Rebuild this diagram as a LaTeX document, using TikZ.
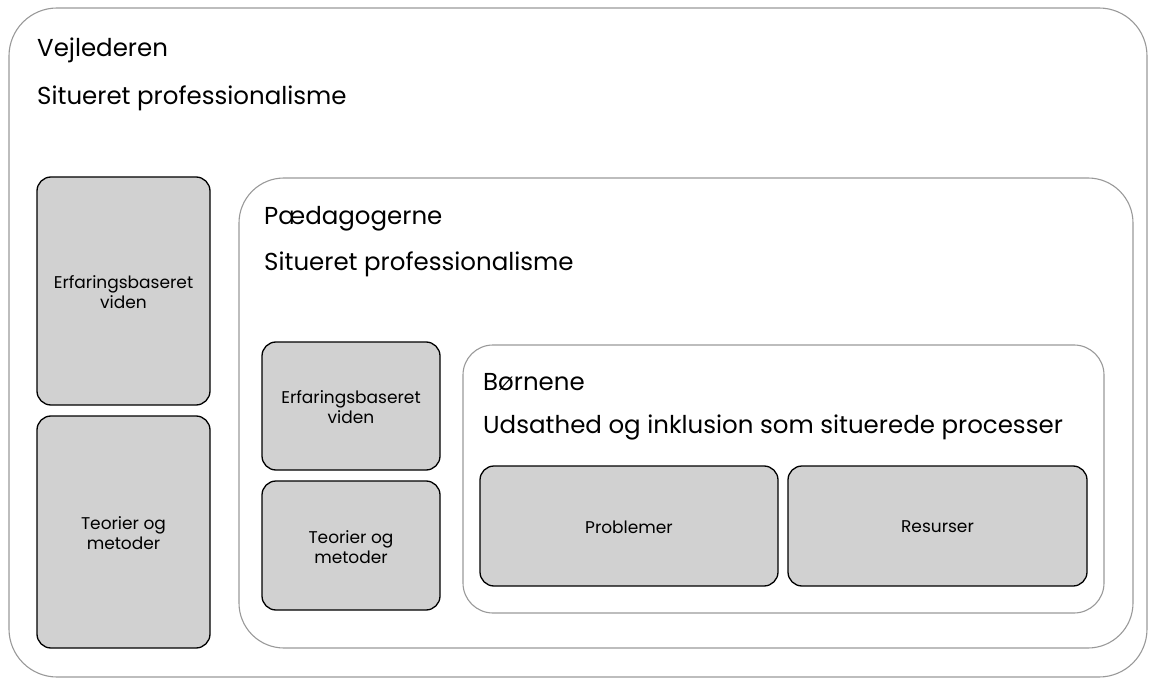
\documentclass[tikz,border=0pt]{standalone}
\usepackage{fontspec}
\setmainfont{Poppins}
\begin{document}
\begin{tikzpicture}[x=1pt,y=-1pt,
  frame/.style={draw=black!40,line width=1.1pt},
  graybox/.style={draw=black,fill=black!18,line width=1.3pt,rounded corners=14pt},
  heading/.style={anchor=base west,inner sep=0pt,font=\fontsize{24.5}{29}\selectfont},
  small/.style={align=center,inner sep=0pt,font=\fontsize{17}{20}\selectfont}]
\useasboundingbox (0,0) rectangle (1149,679);
% outer frame: the supervisor
\draw[frame,rounded corners=48pt] (9,8) rectangle (1147,677);
\node[heading] (t1) at (37,57) {Vejlederen};
\node[heading] (t2) at (37,105) {Situeret professionalisme};
\draw[graybox] (37,177) rectangle (210,405);
\node[small] (a1) at (123.5,292) {Erfaringsbaseret\\viden};
\draw[graybox] (37,416) rectangle (210,648);
\node[small] (a2) at (123.5,533) {Teorier og\\metoder};
% middle frame: the pedagogues
\draw[frame,rounded corners=45pt] (239,178) rectangle (1133,648);
\node[heading] (t3) at (264,225) {Pædagogerne};
\node[heading] (t4) at (264,271) {Situeret professionalisme};
\draw[graybox] (262,342) rectangle (440,470);
\node[small] (b1) at (351,407) {Erfaringsbaseret\\viden};
\draw[graybox] (262,481) rectangle (440,610);
\node[small] (b2) at (351,547) {Teorier og\\metoder};
% inner frame: the children
\draw[frame,rounded corners=30pt] (463,345) rectangle (1104,613);
\node[heading] (t5) at (483,390) {Børnene};
\node[heading] (t6) at (483,433) {Udsathed og inklusion som situerede processer};
\draw[graybox] (480,466) rectangle (778,586);
\node[small] (c1) at (629,527) {Problemer};
\draw[graybox] (788,466) rectangle (1087,586);
\node[small] (c2) at (937.5,527) {Resurser};
\end{tikzpicture}
\end{document}
